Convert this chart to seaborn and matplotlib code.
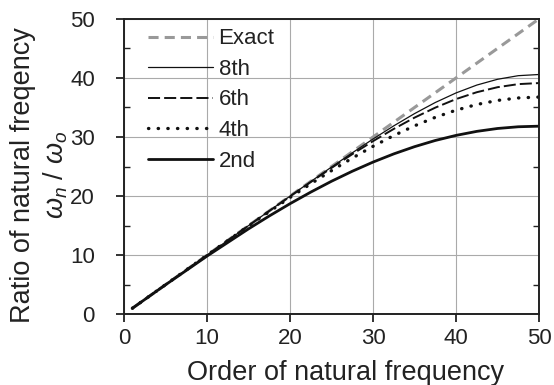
import numpy as np
import pandas as pd
import matplotlib
matplotlib.use("Agg")
import matplotlib.pyplot as plt
import seaborn as sns
from matplotlib.ticker import MultipleLocator

# ---- data ----
order = [1, 5, 10, 15, 17.5, 20, 22.5, 25, 27.5, 30, 32.5, 35, 37.5, 40, 42.5, 45, 47.5, 50]
exact_x = [1, 50]
exact_y = [1, 50]
ratio_8th = [1.00, 5.00, 10.00, 15.00, 17.50, 19.99, 22.46, 24.92, 27.32, 29.66,
             31.89, 33.96, 35.84, 37.46, 38.79, 39.77, 40.38, 40.58]
ratio_6th = [1.00, 5.00, 10.00, 14.99, 17.48, 19.95, 22.38, 24.77, 27.09, 29.30,
             31.37, 33.28, 34.97, 36.42, 37.58, 38.43, 38.95, 39.13]
ratio_4th = [1.00, 5.00, 9.99, 14.94, 17.37, 19.76, 22.08, 24.31, 26.43, 28.42,
             30.25, 31.89, 33.33, 34.54, 35.50, 36.19, 36.61, 36.76]
ratio_2nd = [1.00, 4.98, 9.84, 14.45, 16.63, 18.71, 20.67, 22.51, 24.20, 25.75,
             27.14, 28.36, 29.41, 30.27, 30.95, 31.44, 31.73, 31.83]
x_ticks = [0, 10, 20, 30, 40, 50]
y_ticks = [0, 10, 20, 30, 40, 50]

sns.set_style("ticks")
plt.rcParams['font.family'] = ['Liberation Sans', 'DejaVu Sans']
plt.rcParams['mathtext.fontset'] = 'custom'
plt.rcParams['mathtext.it'] = 'Liberation Sans:italic'
plt.rcParams['mathtext.rm'] = 'Liberation Sans'

fig = plt.figure(figsize=(5.54, 3.85), dpi=100)
ax = fig.add_axes([0.224, 0.184, 0.749, 0.767])

ax.grid(True, color='#aaaaaa', linewidth=0.8, zorder=0)

le = sns.lineplot(x=exact_x, y=exact_y, ax=ax, color='#999999', linewidth=2.2,
                  label='Exact').lines[-1]
le.set_dashes([3.3, 2.0])
sns.lineplot(x=order, y=ratio_8th, ax=ax, color='#111111', linewidth=0.9, label='8th')
l6 = sns.lineplot(x=order, y=ratio_6th, ax=ax, color='#111111', linewidth=1.4, label='6th').lines[-1]
l6.set_dashes([6.2, 2.1])
l4 = sns.lineplot(x=order, y=ratio_4th, ax=ax, color='#111111', linewidth=2.4, label='4th').lines[-1]
l4.set_dashes([0.1, 2.8])
l4.set_dash_capstyle('round')
sns.lineplot(x=order, y=ratio_2nd, ax=ax, color='#111111', linewidth=2.0, label='2nd')

ax.set_xlim(0, 50)
ax.set_ylim(0, 50)
ax.set_xticks(x_ticks)
ax.set_yticks(y_ticks)
ax.xaxis.set_minor_locator(MultipleLocator(5))
ax.yaxis.set_minor_locator(MultipleLocator(5))
ax.tick_params(axis='both', which='major', direction='out', length=6, width=1.3,
               labelsize=16, color='#222222', labelcolor='#222222')
ax.tick_params(axis='x', which='major', pad=4)
ax.tick_params(axis='y', which='major', pad=15)
ax.tick_params(axis='y', which='minor', direction='in', length=4, width=1.0,
               left=True, right=True, color='#222222')
ax.tick_params(axis='x', which='minor', bottom=False)
for s in ax.spines.values():
    s.set_linewidth(1.4)
    s.set_color('#222222')
    s.set_visible(True)

ax.set_xlabel('')
ax.set_ylabel('')
fig.text(0.623, 0.012, 'Order of natural frequency', fontsize=19.5,
         ha='center', va='baseline', color='#222222')
fig.text(0.041, 0.545, 'Ratio of natural freqency', fontsize=19.5, rotation=90,
         ha='center', va='center', color='#222222')
fig.text(0.100, 0.545, r'$\omega_n\ /\ \omega_o$', fontsize=19.5, rotation=90,
         ha='center', va='center', color='#222222')

leg = ax.legend(loc='upper left', bbox_to_anchor=(0.058, 0.968), frameon=False,
                fontsize=16, handlelength=2.9, handletextpad=0.27,
                labelspacing=0.43, borderpad=0, borderaxespad=0)
for t in leg.get_texts():
    t.set_color('#222222')

fig.savefig('out.png', dpi=100)
